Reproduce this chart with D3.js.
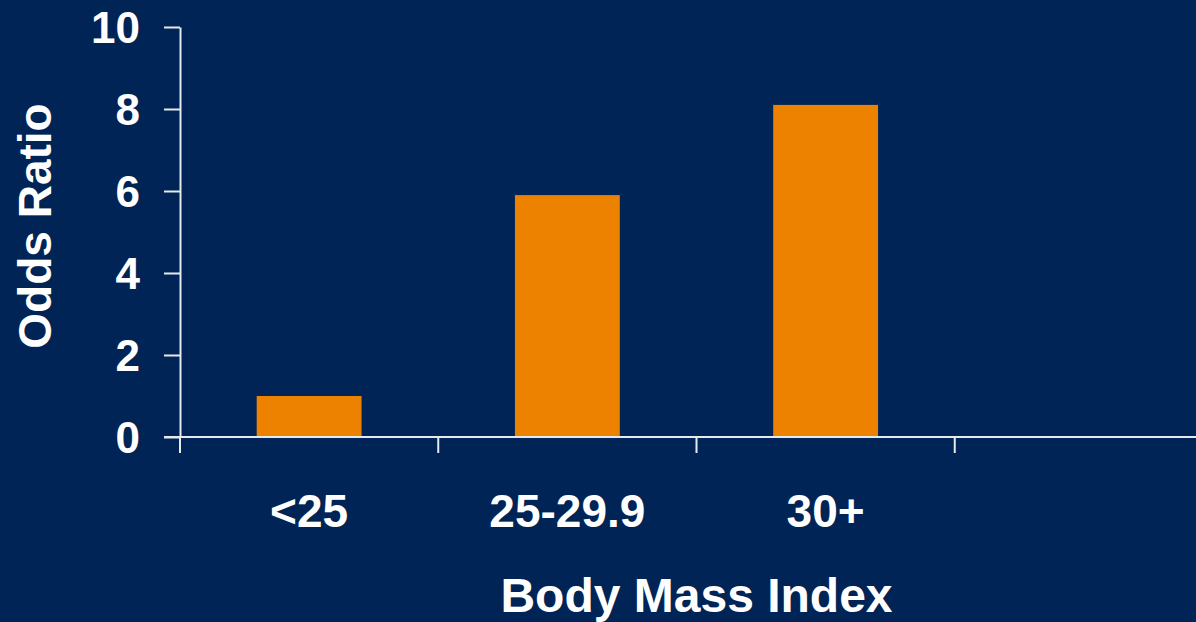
<!DOCTYPE html>
<html>
<head>
<meta charset="utf-8">
<script src="https://cdn.jsdelivr.net/npm/d3@7"></script>
<style>
  html, body { margin: 0; padding: 0; background: #002456; overflow: hidden; }
  svg { display: block; }
  text { font-family: "Liberation Sans", Arial, sans-serif; font-weight: bold; fill: #ffffff; }
</style>
</head>
<body>
<svg id="chart" width="1196" height="622"></svg>
<script>
// BMI groups and their odds ratios
const categories = ["<25", "25-29.9", "30+"];
const oddsRatios = [1.0, 5.9, 8.1];
const yTicks = [0, 2, 4, 6, 8, 10];
const xTitle = "Body Mass Index";
const yTitle = "Odds Ratio";

const W = 1196, H = 622;
const plot = { left: 180, top: 27, bottom: 437, right: 1213 };
const slotCount = 4; // axis has room for one more (empty) group on the right

const svg = d3.select("#chart");

svg.append("rect").attr("width", W).attr("height", H).attr("fill", "#002456");

const y = d3.scaleLinear().domain([0, 10]).range([plot.bottom, plot.top]);

// One slot per group; the last slot stays empty
const slotIds = d3.range(slotCount);
const x = d3.scaleBand()
  .domain(slotIds)
  .range([plot.left, plot.right])
  .paddingInner(0.594)
  .paddingOuter(0.297);
const step = x.step();
const slotStart = i => plot.left + i * step;

// Bars
svg.append("g")
  .selectAll("rect")
  .data(categories.map((c, i) => ({ c, i, v: oddsRatios[i] })))
  .join("rect")
  .attr("x", d => x(d.i))
  .attr("width", x.bandwidth())
  .attr("y", d => y(d.v))
  .attr("height", d => y(0) - y(d.v))
  .attr("fill", "#ED8200");

const axisColor = "#e6e9ee";

// Y axis
const yAxis = d3.axisLeft(y).tickValues(yTicks).tickSize(16).tickSizeOuter(0).tickFormat(d3.format("d"));
const gy = svg.append("g").attr("transform", `translate(${plot.left},0)`).call(yAxis);
gy.select(".domain").attr("stroke", axisColor).attr("stroke-width", 2);
gy.selectAll(".tick line").attr("stroke", axisColor).attr("stroke-width", 2);
gy.selectAll(".tick text")
  .attr("x", -40)
  .attr("dy", "0.35em")
  .attr("fill", "#fff")
  .style("font-size", "44px")
  .style("font-family", "'Liberation Sans', Arial, sans-serif")
  .style("font-weight", "bold");

// X axis line (runs to the right edge)
svg.append("line")
  .attr("x1", plot.left - 16).attr("x2", plot.right)
  .attr("y1", y(0)).attr("y2", y(0))
  .attr("stroke", axisColor).attr("stroke-width", 2);

// X tick marks at slot boundaries
svg.append("g")
  .selectAll("line")
  .data(slotIds)
  .join("line")
  .attr("x1", i => slotStart(i)).attr("x2", i => slotStart(i))
  .attr("y1", y(0)).attr("y2", y(0) + 16)
  .attr("stroke", axisColor).attr("stroke-width", 2);

// Category labels
svg.append("g")
  .selectAll("text")
  .data(categories)
  .join("text")
  .attr("x", (c, i) => x(i) + x.bandwidth() / 2)
  .attr("y", 527)
  .attr("text-anchor", "middle")
  .style("font-size", "46px")
  .text(c => c);

// Axis titles
svg.append("text")
  .attr("x", (plot.left + plot.right) / 2)
  .attr("y", 612)
  .attr("text-anchor", "middle")
  .style("font-size", "48px")
  .text(xTitle);

svg.append("text")
  .attr("transform", `translate(51,${(plot.top + plot.bottom) / 2 - 6}) rotate(-90)`)
  .attr("text-anchor", "middle")
  .style("font-size", "46px")
  .text(yTitle);
</script>
</body>
</html>
